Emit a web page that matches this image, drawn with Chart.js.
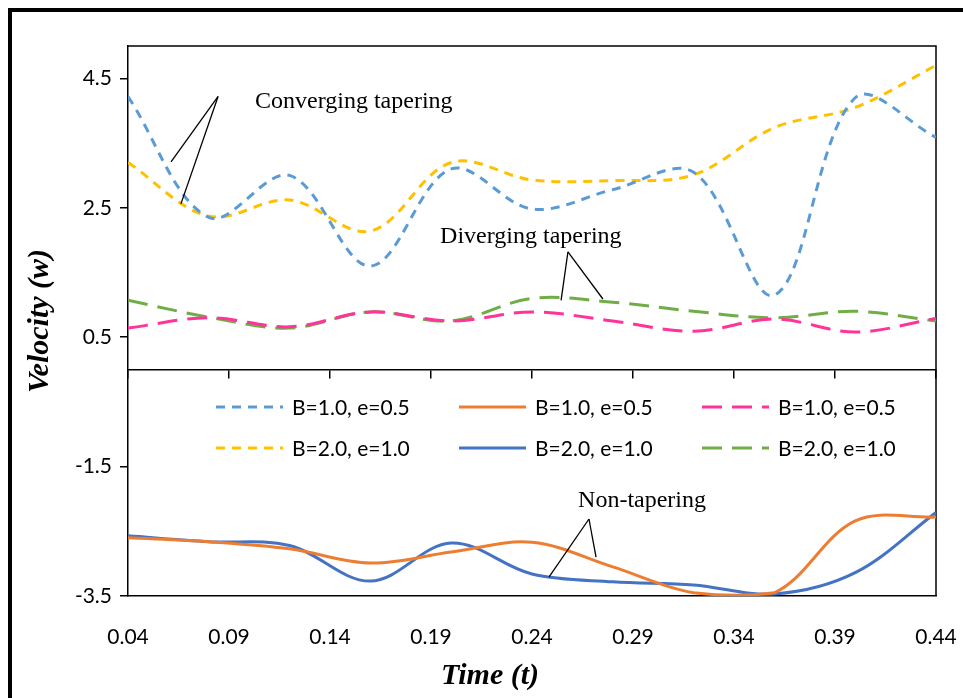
<!DOCTYPE html>
<html>
<head>
<meta charset="utf-8">
<script src="https://cdn.jsdelivr.net/npm/chart.js@4.4.1/dist/chart.umd.min.js"></script>
<style>
  html, body { margin: 0; padding: 0; background: #fff; overflow: hidden; }
  #wrap { position: relative; width: 963px; height: 698px; }
</style>
</head>
<body>
<div id="wrap"><canvas id="c" width="963" height="698"></canvas></div>
<script>
// Time samples (t)
const timeValues = [0.04, 0.08, 0.12, 0.16, 0.20, 0.24, 0.28, 0.32, 0.36, 0.40, 0.44];

// Velocity w for each case
const convergingB1 = [4.22, 2.35, 3.00, 1.60, 3.10, 2.48, 2.78, 3.05, 1.15, 4.20, 3.59];
const nonTaperB1   = [-2.60, -2.66, -2.77, -2.99, -2.82, -2.67, -3.05, -3.45, -3.45, -2.34, -2.28];
const divergingB1  = [0.64, 0.80, 0.66, 0.89, 0.75, 0.89, 0.75, 0.59, 0.78, 0.58, 0.79];
const convergingB2 = [3.20, 2.37, 2.62, 2.14, 3.20, 2.93, 2.92, 3.01, 3.74, 4.05, 4.70];
const nonTaperB2   = [-2.57, -2.66, -2.72, -3.27, -2.68, -3.16, -3.28, -3.33, -3.47, -3.14, -2.21];
const divergingB2  = [1.07, 0.81, 0.64, 0.89, 0.75, 1.10, 1.04, 0.90, 0.80, 0.90, 0.75];

// Axis ticks
const xTickValues = [0.04, 0.09, 0.14, 0.19, 0.24, 0.29, 0.34, 0.39, 0.44];
const yTickValues = [-3.5, -1.5, 0.5, 2.5, 4.5];

const labelB1 = 'B=1.0, e=0.5';
const labelB2 = 'B=2.0, e=1.0';
const xTitle = 'Time (t)';
const yTitle = 'Velocity (w)';

// Callout labels with their leader lines, in data units
const callouts = [
  { text: 'Converging tapering', at: [0.1029, 4.14],
    apex: [0.0846, 4.22], ends: [[0.0613, 3.21], [0.0662, 2.56]] },
  { text: 'Diverging tapering', at: [0.1945, 2.05],
    apex: [0.2578, 1.82], ends: [[0.2544, 1.07], [0.2751, 1.09]] },
  { text: 'Non-tapering', at: [0.2628, -2.03],
    apex: [0.2682, -2.31], ends: [[0.2484, -3.21], [0.2717, -2.90]] }
];

const toPoints = arr => arr.map((v, i) => ({ x: timeValues[i], y: v }));

const SHORT_DASH = [9, 7];
const LONG_DASH = [20, 10];

function series(label, values, color, dash) {
  return {
    label, data: toPoints(values),
    borderColor: color, backgroundColor: color,
    borderWidth: 3, borderDash: dash, borderCapStyle: 'butt',
    pointRadius: 0, tension: 0.35, fill: false
  };
}

const datasets = [
  series(labelB1, convergingB1, '#5B9BD5', SHORT_DASH),
  series(labelB1, nonTaperB1,   '#ED7D31', []),
  series(labelB1, divergingB1,  '#FF3399', LONG_DASH),
  series(labelB2, convergingB2, '#FFC000', SHORT_DASH),
  series(labelB2, nonTaperB2,   '#4472C4', []),
  series(labelB2, divergingB2,  '#70AD47', LONG_DASH)
];

const TICK_FONT = { family: 'Lato', size: 21 };
const TITLE_FONT = { family: 'Liberation Serif', size: 30, weight: 'bold', style: 'italic' };

// Page frame, plot border, legend grid, callouts and the time-axis title
const decorations = {
  id: 'decorations',
  beforeDraw(chart) {
    const ctx = chart.ctx;
    ctx.save();
    ctx.fillStyle = '#fff';
    ctx.fillRect(0, 0, chart.width, chart.height);
    ctx.fillStyle = '#000';
    ctx.fillRect(8, 8, chart.width, 4);
    ctx.fillRect(8, 8, 4, chart.height);
    ctx.restore();
  },
  beforeDatasetsDraw(chart) {
    const { ctx, chartArea: a } = chart;
    ctx.save();
    ctx.strokeStyle = '#000';
    ctx.lineWidth = 1.5;
    ctx.beginPath();
    ctx.moveTo(a.left, a.top);
    ctx.lineTo(a.right, a.top);
    ctx.lineTo(a.right, a.bottom);
    ctx.stroke();
    ctx.restore();
  },
  afterDatasetsDraw(chart) {
    const { ctx, chartArea: a, scales } = chart;
    const xs = scales.x, ys = scales.y;
    ctx.save();
    // legend: 3 columns x 2 rows inside the plot
    const colX = [88, 331, 574];
    const rowY = [361, 402];
    const sampleLen = 67;
    ctx.font = '21px Lato';
    ctx.textBaseline = 'middle';
    ctx.fillStyle = '#000';
    chart.data.datasets.forEach((ds, i) => {
      const col = i % 3, row = Math.floor(i / 3);
      const x0 = a.left + colX[col], y0 = a.top + rowY[row];
      ctx.save();
      ctx.strokeStyle = ds.borderColor;
      ctx.lineWidth = ds.borderWidth;
      ctx.setLineDash(ds.borderDash);
      ctx.lineCap = 'butt';
      ctx.beginPath();
      ctx.moveTo(x0, y0);
      ctx.lineTo(x0 + sampleLen, y0);
      ctx.stroke();
      ctx.restore();
      ctx.fillText(ds.label, x0 + sampleLen + 9, y0 + 1);
    });
    // callouts
    ctx.strokeStyle = '#000';
    ctx.lineWidth = 1.3;
    ctx.font = '24px "Liberation Serif"';
    ctx.textAlign = 'left';
    callouts.forEach(c => {
      const ax = xs.getPixelForValue(c.apex[0]), ay = ys.getPixelForValue(c.apex[1]);
      c.ends.forEach(e => {
        ctx.beginPath();
        ctx.moveTo(ax, ay);
        ctx.lineTo(xs.getPixelForValue(e[0]), ys.getPixelForValue(e[1]));
        ctx.stroke();
      });
      ctx.fillText(c.text, xs.getPixelForValue(c.at[0]), ys.getPixelForValue(c.at[1]));
    });
    // time-axis title, set a little left of the plot centre
    ctx.font = 'italic bold 30px "Liberation Serif"';
    ctx.textAlign = 'center';
    ctx.fillText(xTitle, a.left + 362, xs.bottom - 22);
    ctx.restore();
  }
};

new Chart(document.getElementById('c'), {
  type: 'line',
  data: { datasets },
  plugins: [decorations],
  options: {
    responsive: false,
    animation: false,
    devicePixelRatio: 1,
    layout: { padding: { top: 46, right: 27, left: 0, bottom: 0 } },
    plugins: { legend: { display: false }, tooltip: { enabled: false } },
    scales: {
      x: {
        type: 'linear', position: 'bottom', min: 0.04, max: 0.44,
        afterBuildTicks: s => { s.ticks = xTickValues.map(v => ({ value: v })); },
        afterFit: s => { s.height = 102; s.paddingLeft = 0; s.paddingRight = 0; },
        grid: { display: false },
        border: { display: true, color: '#000', width: 1.5 },
        ticks: { font: TICK_FONT, color: '#000', padding: 21, maxRotation: 0,
                 callback: v => Number(v).toFixed(2) },
        title: { display: false }
      },
      xZero: {
        type: 'linear', axis: 'x', position: { y: 0 }, min: 0.04, max: 0.44,
        afterBuildTicks: s => { s.ticks = xTickValues.map(v => ({ value: v })); },
        afterFit: s => { s.paddingLeft = 0; s.paddingRight = 0; },
        grid: { drawOnChartArea: false, drawTicks: true, tickLength: 8, color: '#000', lineWidth: 1.5 },
        border: { display: true, color: '#000', width: 1.5 },
        ticks: { display: false }
      },
      y: {
        type: 'linear', position: 'left', min: -3.5, max: 5.0,
        afterBuildTicks: s => { s.ticks = yTickValues.map(v => ({ value: v })); },
        afterFit: s => { s.width = 128; s.paddingTop = 0; s.paddingBottom = 0; },
        grid: { drawOnChartArea: false, drawTicks: true, tickLength: 8, color: '#000', lineWidth: 1.5 },
        border: { display: true, color: '#000', width: 1.5 },
        ticks: { font: TICK_FONT, color: '#000', padding: 8,
                 callback: v => Number(v).toFixed(1) },
        title: { display: true, text: yTitle, font: TITLE_FONT, color: '#000',
                 padding: { top: 22, bottom: 0 } }
      }
    }
  }
});
</script>
</body>
</html>
